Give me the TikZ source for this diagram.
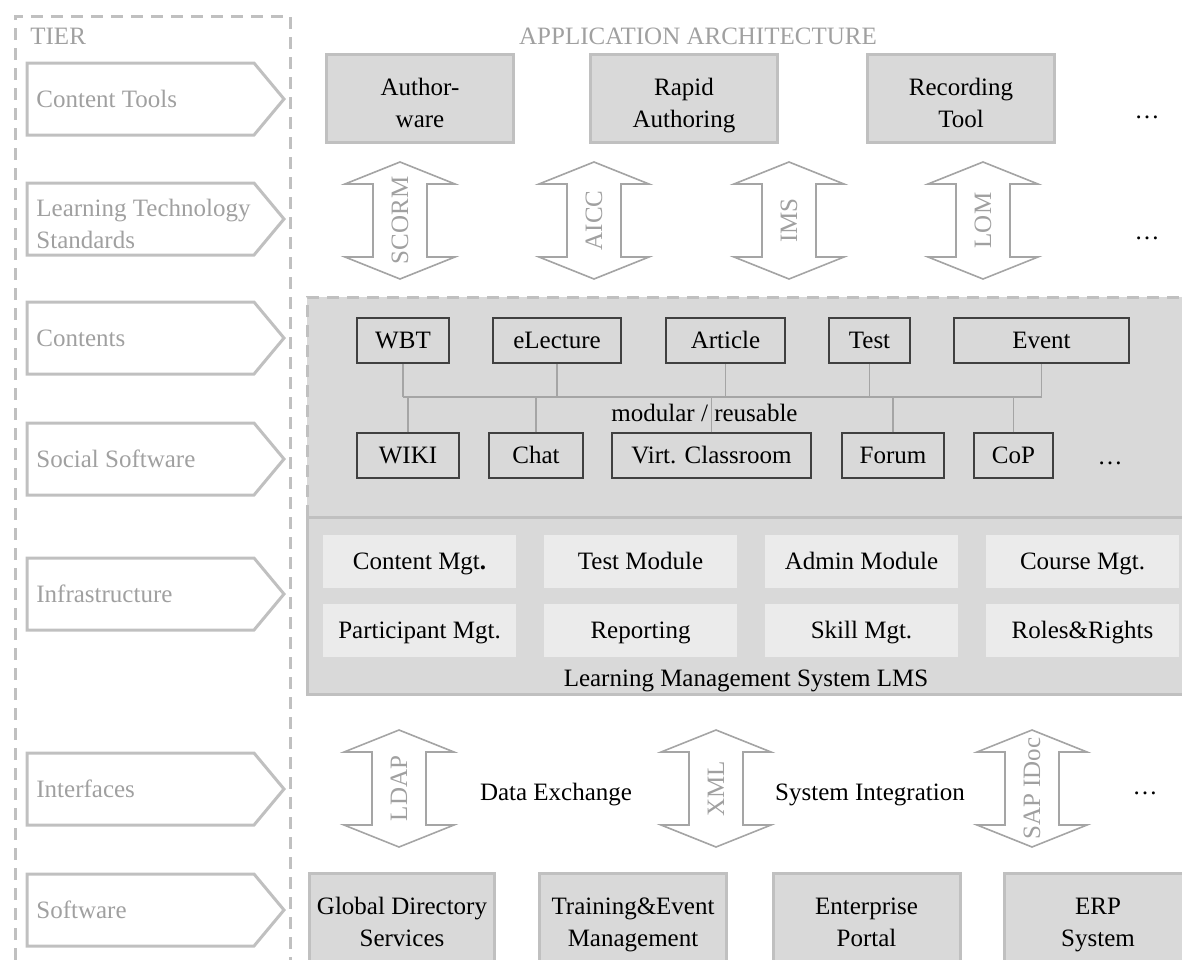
\documentclass[tikz,border=0pt]{standalone}
\usepackage{fontspec}
\setmainfont{Liberation Serif}
\definecolor{boxfill}{RGB}{217,217,217}
\definecolor{boxline}{RGB}{192,192,192}
\definecolor{modfill}{RGB}{235,235,235}
\definecolor{tiertext}{RGB}{160,160,160}
\definecolor{arrowline}{RGB}{165,165,165}
\definecolor{itemline}{RGB}{64,64,64}
\newcommand\stt{\rule[-3.9pt]{0pt}{16pt}}
\newcommand\sttt{\rule[-3.9pt]{0pt}{21pt}}
\tikzset{
  lbl/.style={font=\fontsize{12.5}{16}\selectfont, inner sep=0pt, align=center, execute at begin node=\stt},
  graylbl/.style={lbl, text=tiertext},
  topbox/.style={lbl, draw=boxline, line width=1.5pt, fill=boxfill, minimum width=93.5pt, minimum height=44pt},
  itembox/.style={lbl, draw=itemline, line width=0.75pt, fill=boxfill, minimum height=22.5pt},
  modbox/.style={lbl, fill=modfill, minimum width=96.5pt, minimum height=26.5pt},
  tierline/.style={draw=boxline, line width=1.5pt},
  dblarrow/.style={draw=arrowline, line width=0.8pt, fill=white, line join=miter},
  conn/.style={draw=arrowline, line width=0.75pt},
  dashedframe/.style={draw=boxline, line width=1.5pt, dash pattern=on 6pt off 4pt},
}
\newcommand\tierrow[3]{%
  \draw[tierline] (27,#1) -- (254,#1) -- (284,#1+36) -- (254,#1+72) -- (27,#1+72) -- cycle;
  \node[graylbl, anchor=west, align=left] (#2) at (36,#1+36) {#3};
}
\newcommand\dblarr[4]{%
  \draw[dblarrow] (#1,#2) -- (#1+55,#2+22) -- (#1+27,#2+22) -- (#1+27,#2+95) -- (#1+55,#2+95) -- (#1,#2+117) -- (#1-55,#2+95) -- (#1-27,#2+95) -- (#1-27,#2+22) -- (#1-55,#2+22) -- cycle;
  \node[graylbl, rotate=90] (#3) at (#1,#2+58.5) {#4};
}
\begin{document}
\begin{tikzpicture}[x=0.5pt, y=-0.5pt]
\useasboundingbox (0,0) rectangle (1182,959);
\clip (0,0) rectangle (1182,959);
% tier frame
\draw[dashedframe] (15,1000) -- (15,16) -- (290,16) -- (290,1000);
\node[graylbl, anchor=west] (tier) at (30,36) {TIER};
\tierrow{63}{tct}{Content Tools}
\tierrow{183}{tlts}{\sttt Learning Technology\\\stt Standards}
\tierrow{302}{tcon}{Contents}
\tierrow{423}{tsoc}{Social Software}
\tierrow{558}{tinf}{Infrastructure}
\tierrow{753}{tint}{Interfaces}
\tierrow{874}{tsw}{Software}
% header
\node[graylbl] (apparch) at (698,36) {APPLICATION ARCHITECTURE};
% content tools
\node[topbox] (aw) at (420,98.5) {\sttt Author-\\\stt ware};
\node[topbox] (ra) at (684,98.5) {\sttt Rapid\\\stt Authoring};
\node[topbox] (rt) at (961,98.5) {\sttt Recording\\\stt Tool};
\node[lbl, anchor=base] (dots1) at (1147,118) {\dots};
% standards
\dblarr{400}{162}{scorm}{SCORM}
\dblarr{594}{162}{aicc}{AICC}
\dblarr{789}{162}{ims}{IMS}
\dblarr{983}{162}{lom}{LOM}
\node[lbl, anchor=base] (dots2) at (1147,239) {\dots};
% contents region
\fill[boxfill] (307,297) rectangle (1200,517);
\draw[dashedframe] (307,517) -- (307,297) -- (1200,297);
% LMS box
\draw[draw=boxline, line width=1.5pt, fill=boxfill] (307,517) rectangle (1200,694);
% items
\node[itembox, minimum width=46pt] (wbt) at (403,340.5) {WBT};
\node[itembox, minimum width=64pt] (elec) at (557,340.5) {eLecture};
\node[itembox, minimum width=59.5pt] (art) at (725.5,340.5) {Article};
\node[itembox, minimum width=40.5pt] (test) at (869.5,340.5) {Test};
\node[itembox, minimum width=87.5pt] (evt) at (1041.5,340.5) {Event};
\node[itembox, minimum width=51pt] (wiki) at (408,455.5) {WIKI};
\node[itembox, minimum width=47pt] (chat) at (536,455.5) {Chat};
\node[itembox, minimum width=99.5pt] (virt) at (711.5,455.5) {Virt. Classroom};
\node[itembox, minimum width=51pt] (forum) at (893,455.5) {Forum};
\node[itembox, minimum width=39.5pt] (cop) at (1013.5,455.5) {CoP};
\node[lbl, anchor=base] (dots3) at (1110,464) {…};
\coordinate (bus) at (0,397);
\draw[conn] (wbt.south |- bus) -- (evt.south |- bus);
\foreach \n in {wbt,elec,art,test,evt} {\draw[conn] (\n.south) -- (\n.south |- bus);}
\foreach \n in {wiki,chat,virt,forum,cop} {\draw[conn] (\n.north) -- (\n.north |- bus);}
\node[lbl] (modular) at (704.5,413) {modular / reusable};
% modules
\node[modbox] (cm) at (419.5,561.5) {Content Mgt\textbf{.}};
\node[modbox] (tm) at (640.5,561.5) {Test Module};
\node[modbox] (am) at (861.5,561.5) {Admin Module};
\node[modbox] (crm) at (1082.5,561.5) {Course Mgt.};
\node[modbox] (pm) at (419.5,630.5) {Participant Mgt.};
\node[modbox] (rep) at (640.5,630.5) {Reporting};
\node[modbox] (sm) at (861.5,630.5) {Skill Mgt.};
\node[modbox] (rr) at (1082.5,630.5) {Roles\&Rights};
\node[lbl] (lms) at (746,678) {Learning Management System LMS};
% interfaces
\dblarr{399}{730}{ldap}{LDAP}
\dblarr{716}{730}{xml}{XML}
\dblarr{1032}{730}{sap}{SAP IDoc}
\node[lbl] (dex) at (556,792) {Data Exchange};
\node[lbl] (sint) at (870,792) {System Integration};
\node[lbl, anchor=base] (dots4) at (1145,794) {\dots};
% software
\node[topbox, minimum width=92.5pt] (gds) at (402,917.5) {\sttt Global Directory\\\stt Services};
\node[topbox] (tem) at (633,917.5) {\sttt Training\&Event\\\stt Management};
\node[topbox] (ep) at (866.5,917.5) {\sttt Enterprise\\\stt Portal};
\node[topbox] (erp) at (1098,917.5) {\sttt ERP\\\stt System};
\end{tikzpicture}
\end{document}
